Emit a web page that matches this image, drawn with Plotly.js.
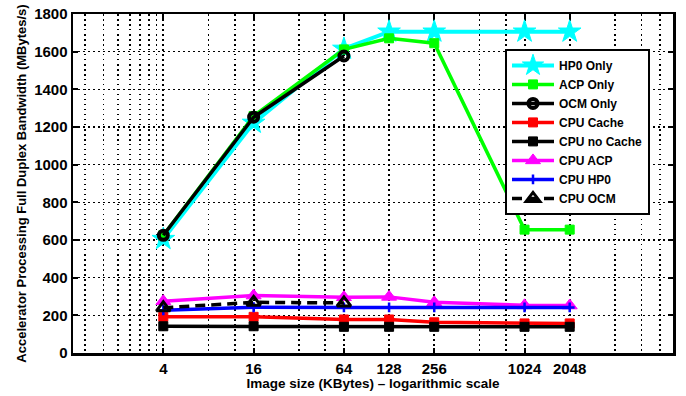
<!DOCTYPE html>
<html>
<head>
<meta charset="utf-8">
<script src="https://cdn.plot.ly/plotly-3.0.1.min.js"></script>
<style>
html,body{margin:0;padding:0;background:#fff;}
#chart{width:686px;height:396px;}
</style>
</head>
<body>
<div id="chart"></div>
<script>
// ---- data ----
const sizes = [4, 16, 64, 128, 256, 1024, 2048];
const sizesOCM = [4, 16, 64];
const tickLabels = ['4', '16', '64', '128', '256', '1024', '2048'];
const minorGrid = [1.2, 1.6, 2.0, 2.4, 2.8, 3.2, 3.6, 8, 12, 32, 48, 512, 768, 4096, 6144, 8192];

const hp0Only   = [605, 1222, 1615, 1706, 1706, 1706, 1706];
const acpOnly   = [625, 1258, 1612, 1671, 1645, 655, 655];
const ocmOnly   = [625, 1252, 1577];
const cpuCache  = [192, 192, 178, 178, 163, 157, 157];
const cpuNoCache= [142, 142, 139, 139, 139, 139, 139];
const cpuACP    = [275, 305, 296, 298, 269, 253, 252];
const cpuHP0    = [227, 243, 242, 242, 242, 242, 242];
const cpuOCM    = [240, 269, 266];

const LW = 3.5;
function tr(name, x, y, color, symbol, msize, extra) {
  const t = {
    type: 'scatter', mode: 'lines+markers', name: name, x: x, y: y,
    line: {color: color, width: LW},
    marker: {symbol: symbol, size: msize, color: color, line: {color: color, width: 1}}
  };
  return Object.assign(t, extra || {});
}

const traces = [
  tr('HP0 Only', sizes, hp0Only, '#00FFFF', 'star', 17, {line: {color: '#00FFFF', width: 4}}),
  tr('ACP Only', sizes, acpOnly, '#00FF00', 'square', 9),
  tr('OCM Only', sizesOCM, ocmOnly, '#000000', 'circle-open', 9, {marker: {symbol: 'circle-open', size: 9, color: '#000', line: {color: '#000', width: 4}}}),
  tr('CPU Cache', sizes, cpuCache, '#FF0000', 'square', 9),
  tr('CPU no Cache', sizes, cpuNoCache, '#000000', 'square', 9),
  tr('CPU ACP', sizes, cpuACP, '#FF00FF', 'triangle-up', 13),
  tr('CPU HP0', sizes, cpuHP0, '#0000FF', 'cross-thin', 7, {marker: {symbol: 'cross-thin', size: 7, color: '#0000FF', line: {color: '#0000FF', width: 2.5}}}),
  tr('CPU OCM', sizesOCM, cpuOCM, '#000000', 'triangle-up-open', 12, {line: {color: '#000', width: LW, dash: '10px,6px'}, marker: {symbol: 'triangle-up-open', size: 12, color: '#000', line: {color: '#000', width: 3}}})
];

const FONT = 'Liberation Sans, Arial, sans-serif';

const layout = {
  width: 686, height: 396,
  margin: {l: 73, r: 13, t: 14, b: 42.5, pad: 0},
  paper_bgcolor: '#fff', plot_bgcolor: '#fff',
  font: {family: FONT, color: '#000', size: 12, weight: 'bold'},
  showlegend: true,
  legend: {
    x: 0.72, y: 0.897, xanchor: 'left', yanchor: 'top',
    bgcolor: '#fff', bordercolor: '#000', borderwidth: 2,
    font: {family: FONT, size: 12, color: '#000', weight: 'bold'},
    itemwidth: 42, tracegroupgap: 0
  },
  xaxis: {
    type: 'log', range: [0, 4],
    tickmode: 'array', tickvals: sizes, ticktext: tickLabels,
    ticks: 'inside', ticklen: 5, tickwidth: 2, tickcolor: '#000',
    showline: true, linecolor: '#000', linewidth: 2.5, mirror: 'ticks',
    showgrid: true, gridcolor: '#000', gridwidth: 2, griddash: '2px,3px',
    minor: {tickmode: 'array', tickvals: minorGrid, showgrid: true, gridcolor: '#000', gridwidth: 1.5, griddash: '1.5px,3.5px', ticks: ''},
    zeroline: false,
    tickfont: {family: FONT, size: 15, color: '#000', weight: 'bold'},
    title: {text: 'Image size (KBytes) \u2013 logarithmic scale', font: {family: FONT, size: 13.5, color: '#000', weight: 'bold'}, standoff: 2}
  },
  yaxis: {
    range: [0, 1800], tickmode: 'linear', tick0: 0, dtick: 200,
    ticks: 'inside', ticklen: 5, tickwidth: 2, tickcolor: '#000',
    showline: true, linecolor: '#000', linewidth: 2.5, mirror: 'ticks',
    showgrid: true, gridcolor: '#000', gridwidth: 1.5, griddash: '1.5px,3.5px',
    zeroline: false,
    tickfont: {family: FONT, size: 15, color: '#000', weight: 'bold'},
    title: {text: 'Accelerator Processing Full Duplex Bandwidth (MBytes/s)', font: {family: FONT, size: 13, color: '#000', weight: 'bold'}, standoff: 5}
  }
};

Plotly.newPlot('chart', traces, layout, {displayModeBar: false, staticPlot: true});
</script>
</body>
</html>
